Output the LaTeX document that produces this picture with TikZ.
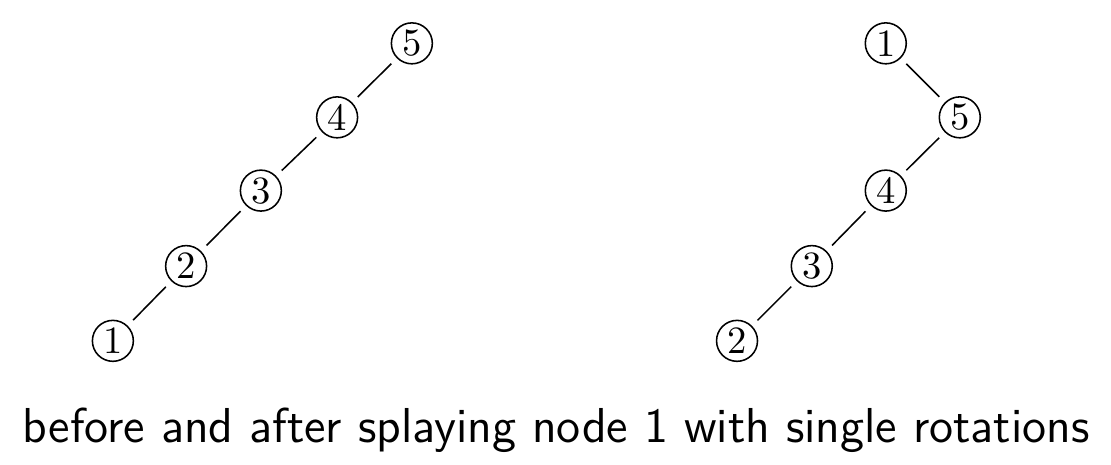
\documentclass[tikz,border=0pt]{standalone}
\tikzset{
  key/.style={circle,draw,inner sep=0pt,minimum size=10.6pt},
  link/.style={shorten <=2pt,shorten >=2pt}
}
\begin{document}
\begin{tikzpicture}[x=0.68cm,y=0.68cm]
        \useasboundingbox (0,0) rectangle (14.863,-6.22);
        % before
        \node[key] (a1) at (1.51,-4.56) {1};
        \node[key] (a2) at (2.49,-3.56) {2};
        \node[key] (a3) at (3.49,-2.55) {3};
        \node[key] (a4) at (4.51,-1.57) {4};
        \node[key] (a5) at (5.51,-0.58) {5};
        \foreach \i/\j in {1/2,2/3,3/4,4/5}
            \draw[link] (a\i) -- (a\j);
        % after
        \node[key] (b2) at (9.86,-4.56) {2};
        \node[key] (b3) at (10.86,-3.56) {3};
        \node[key] (b4) at (11.85,-2.55) {4};
        \node[key] (b5) at (12.84,-1.57) {5};
        \node[key] (b1) at (11.85,-0.58) {1};
        \foreach \i/\j in {2/3,3/4,4/5,5/1}
            \draw[link] (b\i) -- (b\j);
        \node[font=\fontsize{12.7}{15}\selectfont\sffamily] (cap) at (7.44,-5.76) {before and after splaying node 1 with single rotations};
    \end{tikzpicture}
\end{document}
